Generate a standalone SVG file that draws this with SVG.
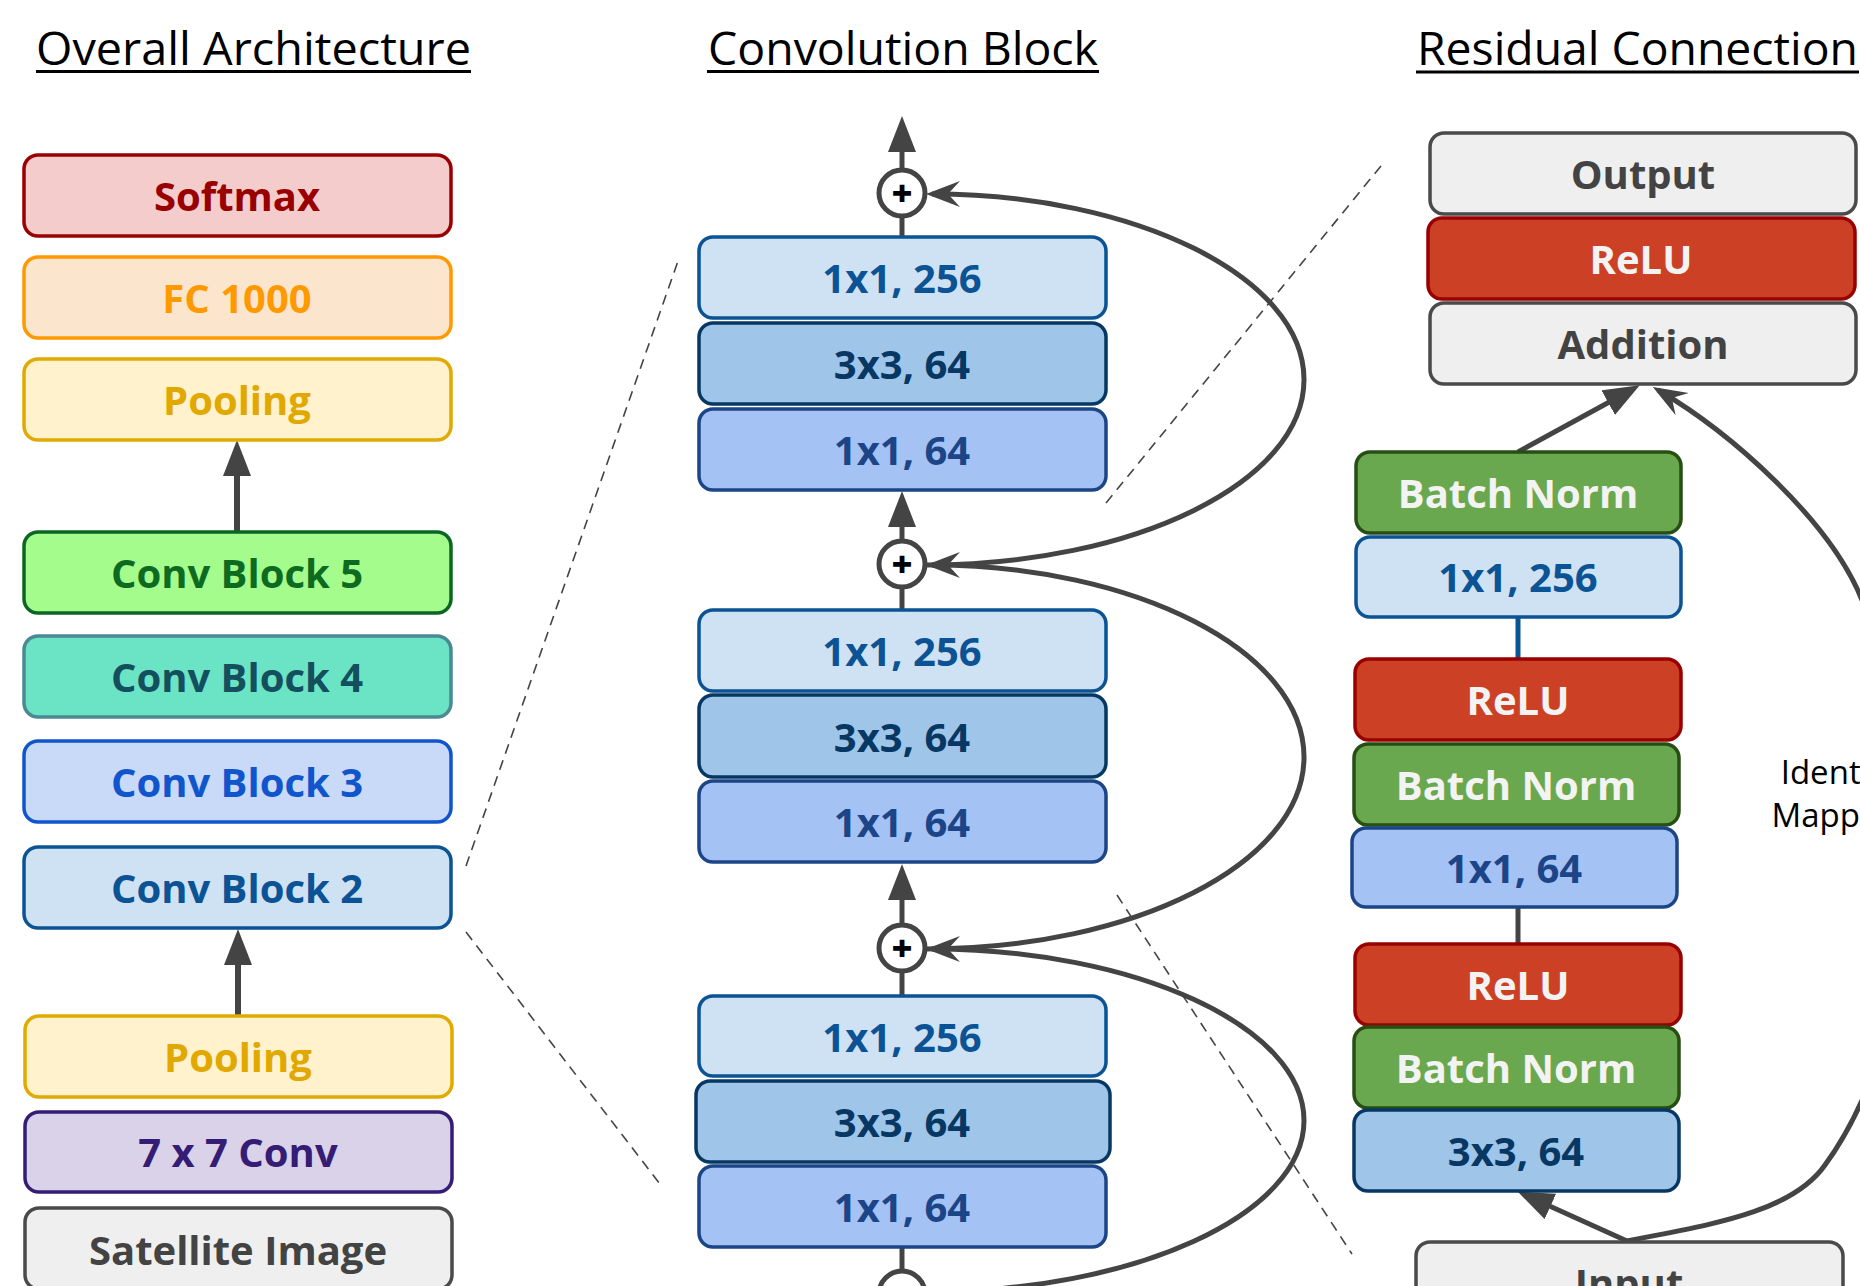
<svg xmlns="http://www.w3.org/2000/svg" width="1860" height="1286" viewBox="0 0 1860 1286">
<defs>
<style>
.bx{stroke-width:3.5}
.t{font-family:"Open Sans","DejaVu Sans",sans-serif;font-weight:700;font-size:40px;text-anchor:middle}
.ttl{font-family:"Open Sans","DejaVu Sans",sans-serif;font-size:46px;fill:#000}
.ul{stroke:#000;stroke-width:3}
.ln{fill:none;stroke:#444;stroke-width:6}
.cv{fill:none;stroke:#444;stroke-width:5}
.ds{fill:none;stroke:#444;stroke-width:1.6;stroke-dasharray:10 7}
.plus{fill:#fff;stroke:#444;stroke-width:5}
.pt{font-family:"Open Sans","DejaVu Sans",sans-serif;font-weight:800;font-size:36px;text-anchor:middle;fill:#000}
.idt{font-family:"Open Sans","DejaVu Sans",sans-serif;font-size:33px;text-anchor:middle;fill:#000}
.sm rect{fill:#f4cccc;stroke:#990000}.sm text{fill:#990000}
.fc rect{fill:#fce5cd;stroke:#ff9900}.fc text{fill:#ff9900}
.pl rect{fill:#fff2cc;stroke:#e0aa00}.pl text{fill:#e0a800}
.c5 rect{fill:#a4fc8c;stroke:#0b6623}.c5 text{fill:#0d6b21}
.c4 rect{fill:#6be3c5;stroke:#4a8a94}.c4 text{fill:#134f5c}
.c3 rect{fill:#c9daf8;stroke:#1155cc}.c3 text{fill:#1155cc}
.c2 rect{fill:#cfe2f3;stroke:#0b5394}.c2 text{fill:#0b5394}
.cv7 rect{fill:#d9d2e9;stroke:#351c75}.cv7 text{fill:#351c75}
.gr rect{fill:#efefef;stroke:#4a4a4a}.gr text{fill:#434343}
.k256 rect{fill:#cfe2f3;stroke:#0b5394}.k256 text{fill:#0b5394}
.k33 rect{fill:#9fc5e8;stroke:#073763}.k33 text{fill:#073763}
.k164 rect{fill:#a4c2f4;stroke:#1c4587}.k164 text{fill:#1c4587}
.rl rect{fill:#cc4125;stroke:#990000}.rl text{fill:#f3f3f3}
.bn rect{fill:#6aa84f;stroke:#274e13}.bn text{fill:#f3f3f3}
</style>
<marker id="tri" viewBox="0 0 36 28" refX="18" refY="14" markerWidth="36" markerHeight="28" markerUnits="userSpaceOnUse" orient="auto">
<path d="M0,0 L36,14 L0,28 Z" fill="#444"/>
</marker>
<marker id="stl" viewBox="0 0 34 28" refX="28" refY="14" markerWidth="34" markerHeight="28" markerUnits="userSpaceOnUse" orient="auto">
<path d="M34,14 L0,1 L12,14 L0,27 Z" fill="#444"/>
</marker>
</defs>
<rect x="0" y="0" width="1860" height="1286" fill="#fff"/>

<g id="titles">
<text class="ttl" x="36" y="65" textLength="435" lengthAdjust="spacingAndGlyphs">Overall Architecture</text>
<line class="ul" x1="36" y1="71.5" x2="471" y2="71.5"/>
<text class="ttl" x="708" y="65" textLength="390" lengthAdjust="spacingAndGlyphs">Convolution Block</text>
<line class="ul" x1="707" y1="71.5" x2="1099" y2="71.5"/>
<text class="ttl" x="1417" y="65" textLength="441" lengthAdjust="spacingAndGlyphs">Residual Connection</text>
<line class="ul" x1="1416" y1="72" x2="1859" y2="72"/>
</g>

<g id="zoom-lines">
<line class="ds" x1="466" y1="866" x2="678" y2="261"/>
<line class="ds" x1="466" y1="932" x2="660" y2="1184"/>
<line class="ds" x1="1106" y1="503" x2="1385" y2="161"/>
<line class="ds" x1="1117" y1="895" x2="1352" y2="1254"/>
</g>

<g id="connectors">
<line class="ln" x1="237" y1="532" x2="237" y2="458" marker-end="url(#tri)"/>
<line class="ln" x1="238" y1="1016" x2="238" y2="947" marker-end="url(#tri)"/>
<line class="cv" x1="902" y1="237" x2="902" y2="214"/>
<line class="cv" x1="902" y1="171" x2="902" y2="134" marker-end="url(#tri)"/>
<line class="cv" x1="902" y1="610" x2="902" y2="585"/>
<line class="cv" x1="902" y1="542" x2="902" y2="509" marker-end="url(#tri)"/>
<line class="cv" x1="902" y1="996" x2="902" y2="969"/>
<line class="cv" x1="902" y1="926" x2="902" y2="882" marker-end="url(#tri)"/>
<line class="cv" x1="902" y1="1247" x2="902" y2="1272"/>
<path class="cv" d="M926,565 C1134.8,565 1304,481.9 1304,379.5 C1304,277.1 1134.8,194 932,194" marker-end="url(#stl)"/>
<path class="cv" d="M926,949 C1134.8,949 1304,863 1304,757 C1304,651 1134.8,565 932,565" marker-end="url(#stl)"/>
<path class="cv" d="M926,1292 C1134.8,1292 1304,1214.4 1304,1120.5 C1304,1026.6 1134.8,949 932,949" marker-end="url(#stl)"/>
<line x1="1518" y1="617" x2="1518" y2="659" stroke="#0b5394" stroke-width="5"/>
<line x1="1518" y1="907" x2="1518" y2="944" stroke="#444" stroke-width="5"/>
<line class="cv" x1="1518" y1="452" x2="1624" y2="394" marker-end="url(#tri)"/>
<line class="cv" x1="1627" y1="1241" x2="1534" y2="1199" marker-end="url(#tri)"/>
<path class="cv" d="M1627,1241 C1700,1226 1790,1215 1825,1165 C1880,1090 1915,960 1915,840 C1915,720 1890,650 1862,600 C1830,520 1730,432 1658,390" marker-end="url(#stl)"/>
</g>

<g id="overall">
<g id="softmax" class="sm"><rect class="bx" x="24" y="155" width="427" height="81" rx="14"/><text class="t" x="237" y="211">Softmax</text></g>
<g id="fc1000" class="fc"><rect class="bx" x="24" y="257" width="427" height="81" rx="14"/><text class="t" x="237" y="313">FC 1000</text></g>
<g id="pooling-top" class="pl"><rect class="bx" x="24" y="359" width="427" height="81" rx="14"/><text class="t" x="237" y="415">Pooling</text></g>
<g id="conv-block-5" class="c5"><rect class="bx" x="24" y="532" width="427" height="81" rx="14"/><text class="t" x="237" y="588">Conv Block 5</text></g>
<g id="conv-block-4" class="c4"><rect class="bx" x="24" y="636" width="427" height="81" rx="14"/><text class="t" x="237" y="692">Conv Block 4</text></g>
<g id="conv-block-3" class="c3"><rect class="bx" x="24" y="741" width="427" height="81" rx="14"/><text class="t" x="237" y="797">Conv Block 3</text></g>
<g id="conv-block-2" class="c2"><rect class="bx" x="24" y="847" width="427" height="81" rx="14"/><text class="t" x="237" y="903">Conv Block 2</text></g>
<g id="pooling-bottom" class="pl"><rect class="bx" x="25" y="1016" width="427" height="81" rx="14"/><text class="t" x="238" y="1072">Pooling</text></g>
<g id="conv7" class="cv7"><rect class="bx" x="25" y="1112" width="427" height="80" rx="14"/><text class="t" x="238" y="1167">7 x 7 Conv</text></g>
<g id="satellite" class="gr"><rect class="bx" x="25" y="1208" width="427" height="81" rx="14"/><text class="t" x="238" y="1265">Satellite Image</text></g>
</g>

<g id="conv-block">
<g id="g1-1x1-256" class="k256"><rect class="bx" x="699" y="237" width="407" height="81" rx="14"/><text class="t" x="902" y="293">1x1, 256</text></g>
<g id="g1-3x3-64" class="k33"><rect class="bx" x="699" y="323" width="407" height="81" rx="14"/><text class="t" x="902" y="379">3x3, 64</text></g>
<g id="g1-1x1-64" class="k164"><rect class="bx" x="699" y="409" width="407" height="81" rx="14"/><text class="t" x="902" y="465">1x1, 64</text></g>
<g id="g2-1x1-256" class="k256"><rect class="bx" x="699" y="610" width="407" height="81" rx="14"/><text class="t" x="902" y="666">1x1, 256</text></g>
<g id="g2-3x3-64" class="k33"><rect class="bx" x="699" y="695" width="407" height="82" rx="14"/><text class="t" x="902" y="752">3x3, 64</text></g>
<g id="g2-1x1-64" class="k164"><rect class="bx" x="699" y="781" width="407" height="81" rx="14"/><text class="t" x="902" y="837">1x1, 64</text></g>
<g id="g3-1x1-256" class="k256"><rect class="bx" x="699" y="996" width="407" height="80" rx="14"/><text class="t" x="902" y="1052">1x1, 256</text></g>
<g id="g3-3x3-64" class="k33"><rect class="bx" x="696" y="1081" width="414" height="81" rx="14"/><text class="t" x="902" y="1137">3x3, 64</text></g>
<g id="g3-1x1-64" class="k164"><rect class="bx" x="699" y="1166" width="407" height="81" rx="14"/><text class="t" x="902" y="1222">1x1, 64</text></g>
<g id="add-1"><circle class="plus" cx="902" cy="193" r="23"/><text class="pt" x="902" y="205.5">+</text></g>
<g id="add-2"><circle class="plus" cx="902" cy="564" r="23"/><text class="pt" x="902" y="576.5">+</text></g>
<g id="add-3"><circle class="plus" cx="902" cy="948" r="23"/><text class="pt" x="902" y="960.5">+</text></g>
<g id="add-4"><circle class="plus" cx="902" cy="1294" r="23"/></g>
</g>

<g id="residual">
<g id="output" class="gr"><rect class="bx" x="1430" y="133" width="426" height="81" rx="14"/><text class="t" x="1643" y="189">Output</text></g>
<g id="relu-out" class="rl"><rect class="bx" x="1428" y="218" width="427" height="81" rx="14"/><text class="t" x="1641" y="274">ReLU</text></g>
<g id="addition" class="gr"><rect class="bx" x="1430" y="303" width="426" height="81" rx="14"/><text class="t" x="1643" y="359">Addition</text></g>
<g id="bn-3" class="bn"><rect class="bx" x="1356" y="452" width="325" height="81" rx="14"/><text class="t" x="1518" y="508">Batch Norm</text></g>
<g id="r-1x1-256" class="k256"><rect class="bx" x="1356" y="537" width="325" height="80" rx="14"/><text class="t" x="1518" y="592">1x1, 256</text></g>
<g id="relu-2" class="rl"><rect class="bx" x="1355" y="659" width="326" height="81" rx="14"/><text class="t" x="1518" y="715">ReLU</text></g>
<g id="bn-2" class="bn"><rect class="bx" x="1354" y="744" width="325" height="81" rx="14"/><text class="t" x="1516" y="800">Batch Norm</text></g>
<g id="r-1x1-64" class="k164"><rect class="bx" x="1352" y="828" width="325" height="79" rx="14"/><text class="t" x="1514" y="883">1x1, 64</text></g>
<g id="relu-1" class="rl"><rect class="bx" x="1355" y="944" width="326" height="81" rx="14"/><text class="t" x="1518" y="1000">ReLU</text></g>
<g id="bn-1" class="bn"><rect class="bx" x="1354" y="1027" width="325" height="81" rx="14"/><text class="t" x="1516" y="1083">Batch Norm</text></g>
<g id="r-3x3-64" class="k33"><rect class="bx" x="1354" y="1110" width="325" height="81" rx="14"/><text class="t" x="1516" y="1166">3x3, 64</text></g>
<g id="input" class="gr"><rect class="bx" x="1416" y="1242" width="427" height="81" rx="14"/><text class="t" x="1629" y="1298">Input</text></g>
<g id="identity-label"><text class="idt" x="1839" y="784">Identity</text><text class="idt" x="1839" y="827">Mapping</text></g>
</g>
</svg>
